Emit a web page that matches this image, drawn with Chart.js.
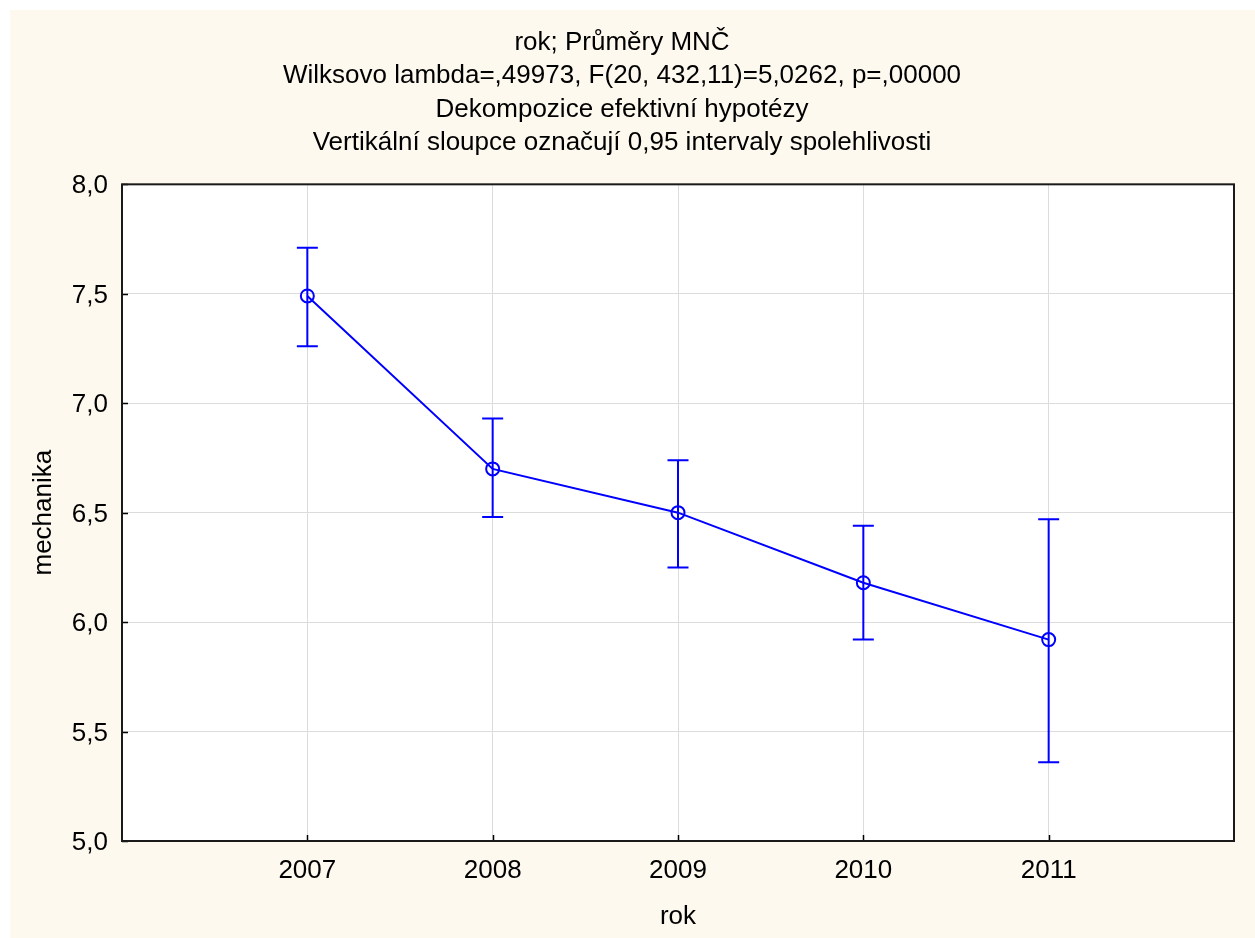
<!DOCTYPE html>
<html>
<head>
<meta charset="utf-8">
<script src="https://cdn.jsdelivr.net/npm/chart.js@4/dist/chart.umd.min.js"></script>
<style>
  html, body { margin: 0; padding: 0; background: #ffffff; overflow: hidden; }
  #wrap { position: absolute; left: 10px; top: 10px; width: 1245px; height: 928px; background: #fdf9ef; }
  canvas { display: block; }
</style>
</head>
<body>
<div id="wrap"><canvas id="c" width="1245" height="928"></canvas></div>
<script>
const titleLines = [
  "rok; Průměry MNČ",
  "Wilksovo lambda=,49973, F(20, 432,11)=5,0262, p=,00000",
  "Dekompozice efektivní hypotézy",
  "Vertikální sloupce označují 0,95 intervaly spolehlivosti"
];
const xAxisTitle = "rok";
const yAxisTitle = "mechanika";
const years = [2007, 2008, 2009, 2010, 2011];
const means = [7.49, 6.70, 6.50, 6.18, 5.92];
const lower = [7.26, 6.48, 6.25, 5.92, 5.36];
const upper = [7.71, 6.93, 6.74, 6.44, 6.47];
const yTicks = [5.0, 5.5, 6.0, 6.5, 7.0, 7.5, 8.0];

const FONT = "'Liberation Sans', Arial, sans-serif";
const BLUE = '#0000ff';

const plotBg = {
  id: 'plotBg',
  beforeDraw(chart) {
    const { ctx, chartArea: a } = chart;
    ctx.save();
    ctx.fillStyle = '#ffffff';
    ctx.fillRect(a.left, a.top, a.right - a.left, a.bottom - a.top);
    ctx.restore();
  }
};

const errorBars = {
  id: 'errorBars',
  afterDatasetsDraw(chart) {
    const { ctx, scales: { x, y } } = chart;
    ctx.save();
    ctx.strokeStyle = BLUE;
    ctx.lineWidth = 2;
    const half = 10.5;
    years.forEach((yr, i) => {
      const px = x.getPixelForValue(yr);
      const pl = y.getPixelForValue(lower[i]);
      const pu = y.getPixelForValue(upper[i]);
      ctx.beginPath();
      ctx.moveTo(px, pu); ctx.lineTo(px, pl);
      ctx.moveTo(px - half, pu); ctx.lineTo(px + half, pu);
      ctx.moveTo(px - half, pl); ctx.lineTo(px + half, pl);
      ctx.stroke();
    });
    ctx.restore();
  }
};

const frame = {
  id: 'frame',
  afterDraw(chart) {
    const { ctx, chartArea: a, scales: { x, y } } = chart;
    ctx.save();
    ctx.strokeStyle = '#000000';
    ctx.lineWidth = 1.5;
    ctx.beginPath();
    years.forEach(v => {
      const px = Math.round(x.getPixelForValue(v)) + 0.5;
      ctx.moveTo(px, a.bottom); ctx.lineTo(px, a.bottom - 6);
    });
    yTicks.forEach(v => {
      const py = Math.round(y.getPixelForValue(v)) + 0.5;
      ctx.moveTo(a.left, py); ctx.lineTo(a.left + 6, py);
    });
    ctx.stroke();
    ctx.lineWidth = 2;
    ctx.strokeStyle = '#1a1a1a';
    ctx.strokeRect(a.left, a.top, a.right - a.left, a.bottom - a.top);
    ctx.restore();
  }
};

new Chart(document.getElementById('c'), {
  type: 'line',
  data: {
    datasets: [{
      data: years.map((yr, i) => ({ x: yr, y: means[i] })),
      borderColor: BLUE,
      borderWidth: 2,
      backgroundColor: 'rgba(0,0,0,0)',
      pointRadius: 6.5,
      pointBorderWidth: 2,
      pointBorderColor: BLUE,
      pointBackgroundColor: 'rgba(0,0,0,0)',
      tension: 0
    }]
  },
  options: {
    responsive: false,
    animation: false,
    events: [],
    layout: { padding: { top: 0, right: 21, left: 0, bottom: 0 } },
    plugins: {
      legend: { display: false },
      tooltip: { enabled: false },
      title: {
        display: true,
        text: titleLines,
        color: '#000000',
        font: { family: FONT, size: 26, weight: 'normal', lineHeight: 1.282 },
        padding: { top: 16, bottom: 25 }
      }
    },
    scales: {
      x: {
        type: 'linear',
        min: 2006,
        max: 2012,
        afterBuildTicks(scale) { scale.ticks = years.map(v => ({ value: v })); },
        afterFit(scale) { scale.height = 97; },
        grid: { color: '#dcdcdc', lineWidth: 1, drawTicks: false },
        border: { display: false },
        ticks: {
          color: '#000000',
          padding: 14,
          font: { family: FONT, size: 26 },
          callback: v => String(v),
          maxRotation: 0
        },
        title: {
          display: true,
          text: xAxisTitle,
          color: '#000000',
          font: { family: FONT, size: 26 },
          padding: { top: 0, bottom: 6 }
        }
      },
      y: {
        min: 5,
        max: 8,
        afterBuildTicks(scale) { scale.ticks = yTicks.map(v => ({ value: v })); },
        afterFit(scale) { scale.width = 112; },
        grid: { color: '#dcdcdc', lineWidth: 1, drawTicks: false },
        border: { display: false },
        ticks: {
          color: '#000000',
          padding: 14,
          labelOffset: 2,
          font: { family: FONT, size: 26 },
          callback: v => Number(v).toFixed(1).replace('.', ',')
        },
        title: {
          display: true,
          text: yAxisTitle,
          color: '#000000',
          font: { family: FONT, size: 26 },
          padding: { top: 18, bottom: 0 }
        }
      }
    }
  },
  plugins: [plotBg, errorBars, frame]
});
</script>
</body>
</html>
